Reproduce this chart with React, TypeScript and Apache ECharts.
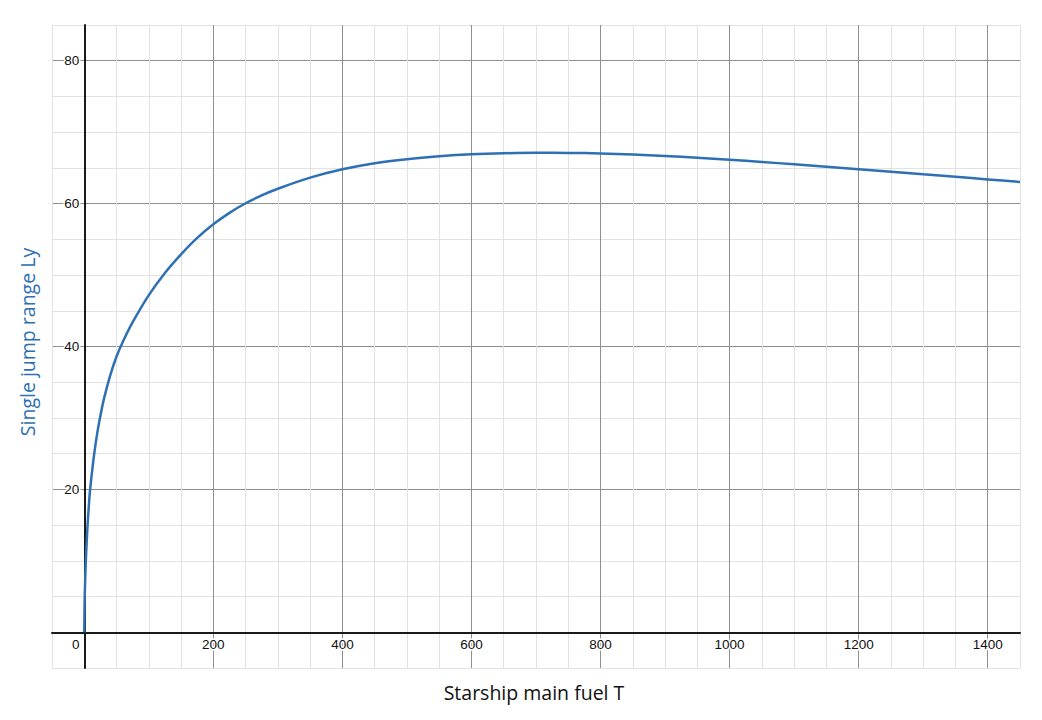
import * as echarts from "echarts";
import { useEffect, useRef } from "react";

// fuel (T)
const fuelTons = [
  0, 0.5, 1, 2, 3, 5, 8, 10, 15, 20, 25, 30, 40, 50, 60, 75, 100, 125, 150, 175, 200, 225, 250, 275, 300, 350, 400,
  450, 500, 550, 600, 650, 700, 750, 800, 850, 900, 950, 1000, 1050, 1100, 1150, 1200, 1250, 1300, 1350, 1400, 1450
];
// single jump range (Ly)
const jumpRange = [
  0, 4, 6, 9, 11.2, 14.8, 18.9, 20.8, 24.7, 27.8, 30.3, 32.5, 35.9, 38.6, 40.7, 43.4, 47.2, 50.3, 52.9, 55.2, 57.1,
  58.7, 60.05, 61.15, 62.08, 63.63, 64.8, 65.65, 66.22, 66.62, 66.9, 67.05, 67.11, 67.1, 67.02, 66.88, 66.68, 66.43,
  66.14, 65.83, 65.5, 65.16, 64.81, 64.46, 64.1, 63.75, 63.39, 63.03
];
const xLabels = [0, 200, 400, 600, 800, 1000, 1200, 1400];
const yLabels = [20, 40, 60, 80];

const X_MIN = -50;
const X_MAX = 1450;
const Y_MIN = -5;
const Y_MAX = 85;

const W = 1042;
const H = 720;
const grid = { left: 52, right: 22, top: 25, bottom: 52 };

const blue = "#2d70b3";
const minor = "#e2e2e2";
const major = "#8f8f8f";
const labelFont = "'Liberation Sans', Arial, sans-serif";
const nameFont = "'Open Sans', Lato, sans-serif";

function buildOption(): echarts.EChartsCoreOption {
  const points = fuelTons.map((fuel, i) => [fuel, jumpRange[i]]);
  const plotW = W - grid.left - grid.right;
  const plotH = H - grid.top - grid.bottom;
  // pull both axes in to the zero lines, like a desmos graph
  const xOffset = -(plotH * (0 - Y_MIN)) / (Y_MAX - Y_MIN);
  const yOffset = -(plotW * (0 - X_MIN)) / (X_MAX - X_MIN);
  const labelStyle = {
    color: "#111",
    fontSize: 13.5,
    fontFamily: labelFont,
    textBorderColor: "#fff",
    textBorderWidth: 3
  };
  return {
    animation: false,
    grid: { ...grid },
    xAxis: {
      type: "value",
      min: X_MIN,
      max: X_MAX,
      interval: 50,
      offset: xOffset,
      axisLine: { onZero: false, lineStyle: { color: "#1a1a1a", width: 2 } },
      axisTick: { show: false },
      axisLabel: {
        ...labelStyle,
        margin: 5,
        formatter: (value: number) => {
          if (value === 0) return "{zero|0}";
          return xLabels.includes(value) ? String(value) : "";
        },
        rich: {
          zero: { ...labelStyle, padding: [0, 17, 0, 0] }
        }
      },
      splitLine: { show: true, lineStyle: { color: [minor, major, minor, minor], width: 1 } }
    },
    yAxis: {
      type: "value",
      min: Y_MIN,
      max: Y_MAX,
      interval: 5,
      offset: yOffset,
      axisLine: { onZero: false, lineStyle: { color: "#1a1a1a", width: 2 } },
      axisTick: { show: false },
      axisLabel: {
        ...labelStyle,
        margin: 5,
        formatter: (value: number) => (yLabels.includes(value) ? String(value) : "")
      },
      splitLine: { show: true, lineStyle: { color: [minor, major, minor, minor], width: 1 } }
    },
    graphic: [
      {
        type: "text",
        x: 534,
        y: 692,
        style: {
          text: "Starship main fuel T",
          fill: "#111",
          font: `19.5px ${nameFont}`,
          align: "center",
          verticalAlign: "middle"
        }
      },
      {
        type: "text",
        x: 27,
        y: 342,
        rotation: Math.PI / 2,
        style: {
          text: "Single jump range Ly",
          fill: blue,
          font: `19.5px ${nameFont}`,
          align: "center",
          verticalAlign: "middle"
        }
      }
    ],
    series: [
      {
        type: "line",
        data: points,
        showSymbol: false,
        smooth: 0.25,
        lineStyle: { color: blue, width: 2.5 },
        itemStyle: { color: blue },
        z: 5
      }
    ]
  };
}

export default function App() {
  const ref = useRef<HTMLDivElement | null>(null);

  useEffect(() => {
    if (!ref.current) return;
    const chart = echarts.init(ref.current, undefined, { renderer: "svg" });
    chart.setOption(buildOption());
    return () => chart.dispose();
  }, []);

  return (
    <div
      ref={ref}
      style={{ position: "absolute", left: 0, top: 0, width: W, height: H, background: "#fff" }}
    />
  );
}
